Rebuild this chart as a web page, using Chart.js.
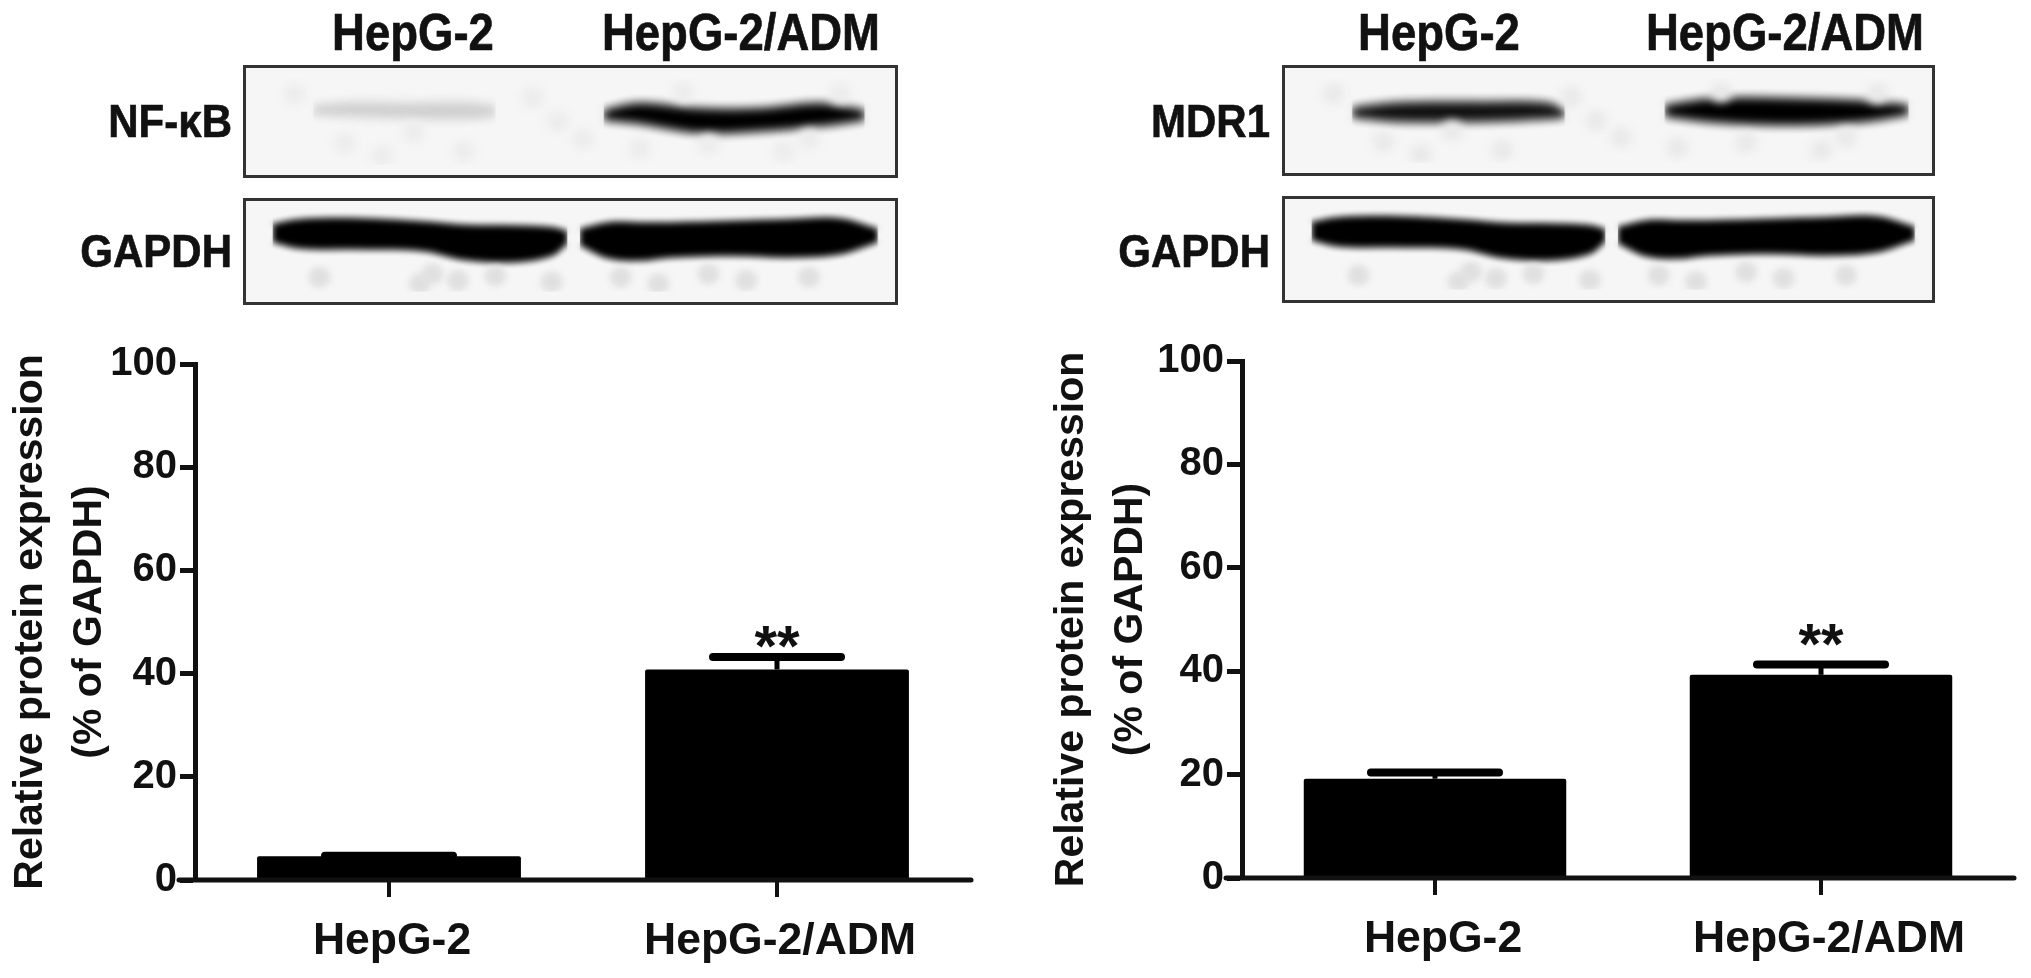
<!DOCTYPE html>
<html>
<head>
<meta charset="utf-8">
<title>NF-kB and MDR1 expression</title>
<script src="https://cdn.jsdelivr.net/npm/chart.js@4/dist/chart.umd.min.js"></script>
<style>
  html, body { margin: 0; background: #fff; }
  #page { position: relative; width: 2031px; height: 978px; overflow: hidden; font-family: "Liberation Sans", Arial, sans-serif; font-weight: bold; color: #111; filter: blur(0.5px); }
  canvas { position: absolute; display: block; }
  .blot { border: 3px solid #333; box-sizing: border-box; background: #f6f6f6; }
  .lbl { position: absolute; font-size: 45.5px; line-height: 50px; white-space: nowrap; transform: translate(-50%, -50%) scaleY(1.12); -webkit-text-stroke: 0.6px #111; }
  .side { position: absolute; font-size: 42px; line-height: 50px; white-space: nowrap; transform: translate(-100%, -50%) scaleY(1.12); -webkit-text-stroke: 0.6px #111; }
</style>
</head>
<body>
<div id="page">
  <div class="lbl" style="left:413px;top:33px">HepG-2</div>
  <div class="lbl" style="left:741px;top:33px">HepG-2/ADM</div>
  <div class="lbl" style="left:1439px;top:33px">HepG-2</div>
  <div class="lbl" style="left:1785px;top:33px">HepG-2/ADM</div>
  <div class="side" style="left:232px;top:121px">NF-κB</div>
  <div class="side" style="left:232px;top:251px">GAPDH</div>
  <div class="side" style="left:1270px;top:121px">MDR1</div>
  <div class="side" style="left:1270px;top:251px">GAPDH</div>

  <canvas id="blotNf" class="blot" width="655" height="113" style="left:243px;top:65px;width:655px;height:113px"></canvas>
  <canvas id="blotGapdhL" class="blot" width="655" height="107" style="left:243px;top:198px;width:655px;height:107px"></canvas>
  <canvas id="blotMdr" class="blot" width="653" height="111" style="left:1282px;top:65px;width:653px;height:111px"></canvas>
  <canvas id="blotGapdhR" class="blot" width="653" height="107" style="left:1282px;top:196px;width:653px;height:107px"></canvas>

  <canvas id="barNf" width="1000" height="641" style="left:0;top:337px;width:1000px;height:641px"></canvas>
  <canvas id="barMdr" width="1000" height="642" style="left:1031px;top:334px;width:1000px;height:642px"></canvas>
</div>
<script>
// bar charts
const categories = ["HepG-2", "HepG-2/ADM"];
const nfValues = [4.6, 40.8];
const nfErrTop = [4.7, 43.2];
const mdrValues = [19.2, 39.3];
const mdrErrTop = [20.4, 41.3];
const nfStars = ["", "**"];
const mdrStars = ["", "**"];
const yTicks = [0, 20, 40, 60, 80, 100];
const yTitle = ["Relative protein expression", "(% of GAPDH)"];

const nfFaintX = [9, 15, 24, 33, 38];
const nfFaintTop = [32, 28, 29, 28, 32];
const nfFaintBottom = [42, 44, 46, 47, 44];
const nfStrongX = [55.3, 60.7, 70.5, 80.2, 90, 96.9];
const nfStrongTop = [37, 29, 35, 35, 29, 37];
const nfStrongBottom = [48, 52, 63, 61, 55, 48];
const mdrLeftX = [9, 16, 30, 40, 43];
const mdrLeftTop = [35, 29, 28, 29, 37];
const mdrLeftBottom = [46, 51, 51, 48, 46];
const mdrRightX = [59, 67, 79, 91, 98];
const mdrRightTop = [32, 24, 24, 27, 32];
const mdrRightBottom = [45, 52, 55, 51, 43];
const gapdhLeftX = [2.5, 7, 17, 26.5, 33, 41, 47, 49.5];
const gapdhLeftTop = [16, 10, 9, 13, 17, 18, 20, 25];
const gapdhLeftBottom = [38, 46, 47, 49, 60, 63, 55, 40];
const gapdhRightX = [51.5, 56, 61, 66, 76, 85, 93, 99];
const gapdhRightTop = [22, 14, 14, 14, 12, 10, 9, 22];
const gapdhRightBottom = [42, 58, 61, 57, 55, 57, 53, 38];
const upperSpotsX = [6, 14, 25, 33, 44, 52, 61, 72, 84, 93, 20, 48, 68, 88];
const upperSpotsY = [18, 75, 62, 85, 22, 70, 82, 76, 85, 18, 90, 50, 16, 70];
const lowerSpotsX = [10, 26, 28, 32, 38, 47, 58, 64, 72, 78, 88];
const lowerSpotsY = [82, 90, 78, 86, 80, 88, 82, 90, 78, 86, 82];

const blotBlur = {
  id: "blotBlur",
  beforeDatasetsDraw(chart, args, opts) { chart.ctx.filter = "blur(" + opts.px + "px)"; },
  afterDatasetsDraw(chart) { chart.ctx.filter = "none"; }
};

function edge(xs, ys) {
  return xs.map((x, i) => ({ x: x, y: ys[i] }));
}

function makeBlot(id, bands, spotsX, spotsY, spotColor, blur) {
  const datasets = [];
  datasets.push({
    type: "scatter",
    data: edge(spotsX, spotsY),
    pointRadius: 11,
    pointBackgroundColor: spotColor,
    pointBorderWidth: 0
  });
  bands.forEach((b) => {
    datasets.push({
      type: "line",
      data: edge(b.x, b.top),
      borderColor: b.color,
      borderWidth: 1,
      pointRadius: 0,
      tension: 0.35,
      fill: "+1",
      backgroundColor: b.color
    });
    datasets.push({
      type: "line",
      data: edge(b.x, b.bottom),
      borderColor: b.color,
      borderWidth: 1,
      pointRadius: 0,
      tension: 0.35,
      fill: false
    });
  });
  new Chart(document.getElementById(id), {
    data: { datasets: datasets },
    plugins: [blotBlur],
    options: {
      responsive: false,
      animation: false,
      layout: { padding: 0 },
      scales: {
        x: { type: "linear", min: 0, max: 100, display: false },
        y: { type: "linear", min: 0, max: 100, reverse: true, display: false }
      },
      plugins: { legend: { display: false }, tooltip: { enabled: false }, blotBlur: { px: blur } }
    }
  });
}

makeBlot("blotNf", [
  { x: nfFaintX, top: nfFaintTop, bottom: nfFaintBottom, color: "#cfcfcf" },
  { x: nfStrongX, top: nfStrongTop, bottom: nfStrongBottom, color: "#000" }
], upperSpotsX, upperSpotsY, "#ececec", 5);
makeBlot("blotGapdhL", [
  { x: gapdhLeftX, top: gapdhLeftTop, bottom: gapdhLeftBottom, color: "#000" },
  { x: gapdhRightX, top: gapdhRightTop, bottom: gapdhRightBottom, color: "#000" }
], lowerSpotsX, lowerSpotsY, "#e0e0e0", 3);
makeBlot("blotMdr", [
  { x: mdrLeftX, top: mdrLeftTop, bottom: mdrLeftBottom, color: "#111" },
  { x: mdrRightX, top: mdrRightTop, bottom: mdrRightBottom, color: "#000" }
], upperSpotsX, upperSpotsY, "#e9e9e9", 5);
makeBlot("blotGapdhR", [
  { x: gapdhLeftX, top: gapdhLeftTop, bottom: gapdhLeftBottom, color: "#000" },
  { x: gapdhRightX, top: gapdhRightTop, bottom: gapdhRightBottom, color: "#000" }
], lowerSpotsX, lowerSpotsY, "#e0e0e0", 3);

// error bars and significance marks on top of the bars
const errorBars = {
  id: "errorBars",
  afterDatasetsDraw(chart, args, opts) {
    const ctx = chart.ctx;
    const xs = chart.scales.x;
    const ys = chart.scales.y;
    ctx.save();
    ctx.strokeStyle = "#000";
    ctx.fillStyle = "#111";
    opts.top.forEach((v, i) => {
      const x = xs.getPixelForValue(i);
      const y = ys.getPixelForValue(v);
      ctx.lineCap = "butt";
      ctx.lineWidth = 5;
      ctx.beginPath();
      ctx.moveTo(x, ys.getPixelForValue(opts.values[i]));
      ctx.lineTo(x, y);
      ctx.stroke();
      ctx.lineCap = "round";
      ctx.lineWidth = 8;
      ctx.beginPath();
      ctx.moveTo(x - 64, y);
      ctx.lineTo(x + 64, y);
      ctx.stroke();
      if (opts.stars[i]) {
        ctx.font = "bold 58px 'Liberation Sans', Arial, sans-serif";
        ctx.textAlign = "center";
        ctx.textBaseline = "alphabetic";
        ctx.fillText(opts.stars[i], x, y + opts.starOffset);
      }
    });
    ctx.restore();
  }
};

function makeBars(id, values, errTop, stars, starOffset, titleGap, labelShift, plotLeft, plotWidth) {
  new Chart(document.getElementById(id), {
    type: "bar",
    data: {
      labels: categories,
      datasets: [{
        data: values,
        backgroundColor: "#000",
        barPercentage: 0.68,
        categoryPercentage: 1,
        borderRadius: 2,
        borderSkipped: "bottom"
      }]
    },
    plugins: [errorBars],
    options: {
      responsive: false,
      animation: false,
      layout: { padding: { top: 0, left: titleGap, right: 1000 - plotLeft - plotWidth, bottom: 0 } },
      scales: {
        x: {
          afterFit(scale) { scale.height = 98; },
          grid: { display: false },
          border: { display: false },
          ticks: { color: "#111", padding: 27, labelOffset: labelShift, maxRotation: 0, font: { family: "'Liberation Sans', Arial, sans-serif", weight: "bold", size: 44.5 } }
        },
        y: {
          min: 0,
          max: 100,
          afterFit(scale) { scale.width = plotLeft - titleGap; },
          afterBuildTicks(scale) { scale.ticks = yTicks.map((v) => ({ value: v })); },
          grid: { display: true, drawOnChartArea: false, drawTicks: true, tickLength: 15, tickWidth: 5, tickColor: "#111" },
          border: { display: true, color: "#111", width: 5 },
          ticks: { color: "#111", padding: 3, font: { family: "'Liberation Sans', Arial, sans-serif", weight: "bold", size: 40 } },
          title: {
            display: true,
            text: yTitle,
            color: "#111",
            padding: { top: 0, bottom: 0 },
            font: { family: "'Liberation Sans', Arial, sans-serif", weight: "bold", size: 41, lineHeight: 1.45 }
          }
        }
      },
      plugins: {
        legend: { display: false },
        tooltip: { enabled: false },
        errorBars: { top: errTop, values: values, stars: stars, starOffset: starOffset }
      }
    },
  });
}

// x axis line runs past the y axis and has ticks under the bar centres
Chart.register({
  id: "baseLine",
  afterDraw(chart) {
    if (chart.scales.x.options.display === false) return;
    const a = chart.chartArea;
    const y = chart.scales.y.getPixelForValue(0);
    const ctx = chart.ctx;
    ctx.save();
    ctx.strokeStyle = "#111";
    ctx.lineWidth = 5;
    ctx.lineCap = "round";
    ctx.beginPath();
    ctx.moveTo(a.left - 16, y);
    ctx.lineTo(a.right, y);
    ctx.stroke();
    ctx.lineCap = "butt";
    ctx.lineWidth = 4;
    categories.forEach((c, i) => {
      const x = chart.scales.x.getPixelForValue(i);
      ctx.beginPath();
      ctx.moveTo(x, y);
      ctx.lineTo(x, y + 17);
      ctx.stroke();
    });
    ctx.restore();
  }
});

makeBars("barNf", nfValues, nfErrTop, nfStars, 9, 1, 3, 195, 776);
makeBars("barMdr", mdrValues, mdrErrTop, mdrStars, 0, 11, 8, 211, 772);
</script>
</body>
</html>
